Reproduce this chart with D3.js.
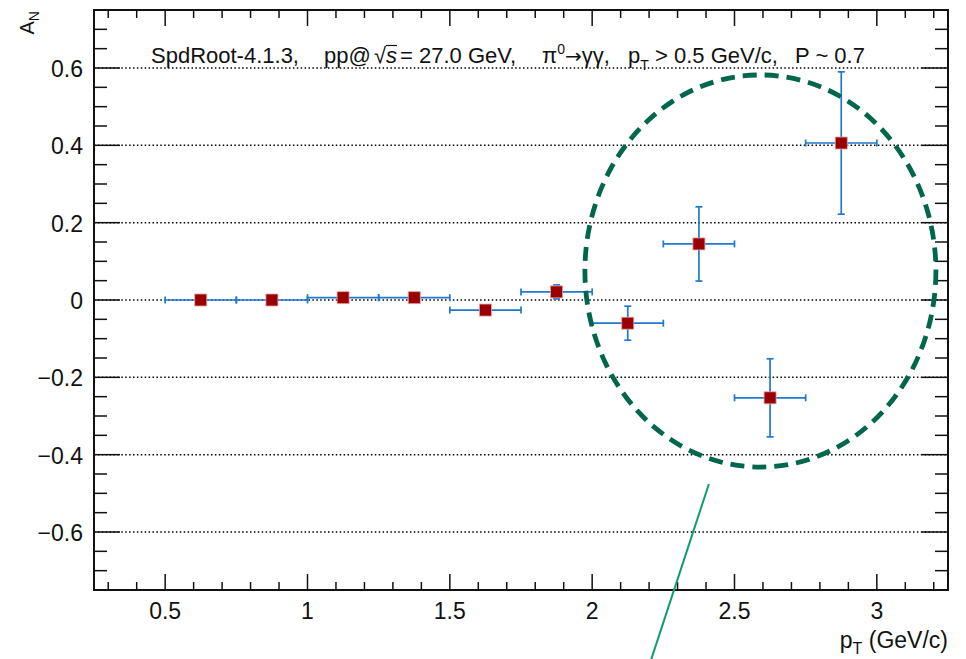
<!DOCTYPE html>
<html>
<head>
<meta charset="utf-8">
<script src="https://cdn.jsdelivr.net/npm/d3@7"></script>
<style>
  html, body { margin: 0; padding: 0; background: #fff; }
  svg { display: block; font-family: "Liberation Sans", Arial, Helvetica, sans-serif; }
  text { white-space: pre; }
</style>
</head>
<body>
<svg id="chart" width="966" height="659"></svg>
<script>
// pT bins (GeV/c): centres and half-widths
const ptCenters = [0.625, 0.875, 1.125, 1.375, 1.625, 1.875, 2.125, 2.375, 2.625, 2.875];
const ptHalfWidth = [0.125, 0.125, 0.125, 0.125, 0.125, 0.125, 0.125, 0.125, 0.125, 0.125];
// single-spin asymmetry A_N and its statistical error
const anValues = [0.000, 0.000, 0.006, 0.006, -0.026, 0.021, -0.060, 0.145, -0.253, 0.406];
const anErrors = [0.008, 0.008, 0.010, 0.010, 0.012, 0.018, 0.044, 0.096, 0.101, 0.184];

// axis ticks
const xMajorTicks = [0.5, 1, 1.5, 2, 2.5, 3];
const xTickLabels = ["0.5", "1", "1.5", "2", "2.5", "3"];
const yMajorTicks = [-0.6, -0.4, -0.2, 0, 0.2, 0.4, 0.6];
const yTickLabels = ["\u22120.6", "\u22120.4", "\u22120.2", "0", "0.2", "0.4", "0.6"];
const xMinorTicks = d3.range(3, 33).map(i => i / 10).filter(v => !xMajorTicks.some(m => Math.abs(m - v) < 1e-9));
const yMinorTicks = d3.range(-15, 16).map(i => i * 0.05).filter(v => !yMajorTicks.some(m => Math.abs(m - v) < 1e-9));

// highlighted region (ellipse) and the pointer line, in data units
const regionCenter = [2.591, 0.075];
const regionRadii = [0.6165, 0.507];
const pointerLine = [[2.410, -0.476], [2.196, -0.955]];

const svg = d3.select("#chart");
const frame = { left: 94, right: 948, top: 10, bottom: 590 };

const x = d3.scaleLinear().domain([0.25, 3.25]).range([frame.left, frame.right]);
const y = d3.scaleLinear().domain([-0.75, 0.75]).range([frame.bottom, frame.top]);

// dotted horizontal grid
svg.append("g")
  .selectAll("line")
  .data(yMajorTicks)
  .join("line")
  .attr("x1", frame.left).attr("x2", frame.right)
  .attr("y1", d => y(d)).attr("y2", d => y(d))
  .attr("stroke", "#000").attr("stroke-width", 1.5)
  .attr("stroke-dasharray", "1.5,2.4");

// inward ticks on all four sides
const tickG = svg.append("g").attr("stroke", "#111").attr("stroke-width", 1.5);
function vTicks(vals, len, y0, dir) {
  tickG.append("g").selectAll("line").data(vals).join("line")
    .attr("x1", d => x(d)).attr("x2", d => x(d))
    .attr("y1", y0).attr("y2", y0 + dir * len);
}
function hTicks(vals, len, x0, dir) {
  tickG.append("g").selectAll("line").data(vals).join("line")
    .attr("y1", d => y(d)).attr("y2", d => y(d))
    .attr("x1", x0).attr("x2", x0 + dir * len);
}
vTicks(xMajorTicks, 16, frame.bottom, -1);
vTicks(xMinorTicks, 8, frame.bottom, -1);
vTicks(xMajorTicks, 16, frame.top, 1);
vTicks(xMinorTicks, 8, frame.top, 1);
hTicks(yMajorTicks, 26, frame.left, 1);
hTicks(yMinorTicks, 13, frame.left, 1);
hTicks(yMajorTicks, 26, frame.right, -1);
hTicks(yMinorTicks, 13, frame.right, -1);

// frame
svg.append("rect")
  .attr("x", frame.left).attr("y", frame.top)
  .attr("width", frame.right - frame.left).attr("height", frame.bottom - frame.top)
  .attr("fill", "none").attr("stroke", "#111").attr("stroke-width", 2);

// tick labels
svg.append("g").selectAll("text").data(xMajorTicks).join("text")
  .attr("x", d => x(d)).attr("y", frame.bottom + 29)
  .attr("text-anchor", "middle").attr("font-size", 23).attr("fill", "#111")
  .text((d, i) => xTickLabels[i]);
svg.append("g").selectAll("text").data(yMajorTicks).join("text")
  .attr("x", frame.left - 11).attr("y", d => y(d) + 9)
  .attr("text-anchor", "end").attr("font-size", 23).attr("fill", "#111")
  .text((d, i) => yTickLabels[i]);

// axis titles
const xt = svg.append("text")
  .attr("x", frame.right).attr("y", 648)
  .attr("text-anchor", "end").attr("font-size", 23).attr("fill", "#111");
xt.append("tspan").text("p");
xt.append("tspan").attr("font-size", 16).attr("dy", 6).text("T");
xt.append("tspan").attr("dy", -6).text(" (GeV/c)");

const yt = svg.append("text")
  .attr("transform", "translate(34,11) rotate(-90)")
  .attr("text-anchor", "end").attr("font-size", 20).attr("fill", "#111");
yt.append("tspan").text("A");
yt.append("tspan").attr("font-size", 14).attr("dy", 5).text("N");

// header line
const title = svg.append("text").attr("y", 63).attr("font-size", 22).attr("fill", "#111");
title.append("tspan").attr("x", 151).text("SpdRoot-4.1.3,");
title.append("tspan").attr("x", 324).text("pp@");
title.append("tspan").attr("x", 374).text("\u221A");
title.append("tspan").attr("font-style", "italic").text("s");
title.append("tspan").attr("x", 400).text("= 27.0 GeV,");
title.append("tspan").attr("x", 542).text("\u03C0");
title.append("tspan").attr("font-size", 14).attr("dy", -9).text("0");
title.append("tspan").attr("dy", 9).attr("font-family", "DejaVu Sans").attr("font-size", 20).text("\u2192");
title.append("tspan").text("\u03B3\u03B3,");
title.append("tspan").attr("x", 628).text("p");
title.append("tspan").attr("font-size", 14).attr("dy", 7).text("T");
title.append("tspan").attr("dy", -7).attr("x", 655).text("> 0.5 GeV/c,");
title.append("tspan").attr("x", 795).text("P ~ 0.7");
// overbar of the square root
svg.append("line")
  .attr("x1", 386).attr("x2", 397).attr("y1", 45.5).attr("y2", 45.5)
  .attr("stroke", "#111").attr("stroke-width", 1.2);

// data: error bars + markers
const pts = ptCenters.map((c, i) => ({ x: c, hw: ptHalfWidth[i], y: anValues[i], e: anErrors[i] }));
const blue = "#1f78d1";
const markerHalf = 6;
const capHalf = 3.5;
const eg = svg.append("g").attr("stroke", blue).attr("stroke-width", 1.7);
pts.forEach(p => {
  const cx = x(p.x), cy = y(p.y);
  const xl = x(p.x - p.hw), xr = x(p.x + p.hw);
  eg.append("line").attr("x1", xl).attr("x2", xr).attr("y1", cy).attr("y2", cy);
  eg.append("line").attr("x1", xl).attr("x2", xl).attr("y1", cy - capHalf).attr("y2", cy + capHalf);
  eg.append("line").attr("x1", xr).attr("x2", xr).attr("y1", cy - capHalf).attr("y2", cy + capHalf);
  const yt2 = y(p.y + p.e), yb = y(p.y - p.e);
  if (cy - yt2 > markerHalf) {
    eg.append("line").attr("x1", cx).attr("x2", cx).attr("y1", yt2).attr("y2", yb);
    eg.append("line").attr("x1", cx - capHalf).attr("x2", cx + capHalf).attr("y1", yt2).attr("y2", yt2);
    eg.append("line").attr("x1", cx - capHalf).attr("x2", cx + capHalf).attr("y1", yb).attr("y2", yb);
  }
});
svg.append("g").selectAll("rect").data(pts).join("rect")
  .attr("x", d => x(d.x) - markerHalf).attr("y", d => y(d.y) - markerHalf)
  .attr("width", 2 * markerHalf).attr("height", 2 * markerHalf)
  .attr("fill", "#990000").attr("stroke", "#e8a0a0").attr("stroke-width", 0.8);

// highlighted region
svg.append("ellipse")
  .attr("cx", x(regionCenter[0])).attr("cy", y(regionCenter[1]))
  .attr("rx", x(regionCenter[0] + regionRadii[0]) - x(regionCenter[0]))
  .attr("ry", y(regionCenter[1]) - y(regionCenter[1] + regionRadii[1]))
  .attr("fill", "none").attr("stroke", "#00664c").attr("stroke-width", 4.8)
  .attr("stroke-dasharray", "14,8");

// pointer line
svg.append("line")
  .attr("x1", x(pointerLine[0][0])).attr("y1", y(pointerLine[0][1]))
  .attr("x2", x(pointerLine[1][0])).attr("y2", y(pointerLine[1][1]))
  .attr("stroke", "#0f9a72").attr("stroke-width", 2);
</script>
</body>
</html>
